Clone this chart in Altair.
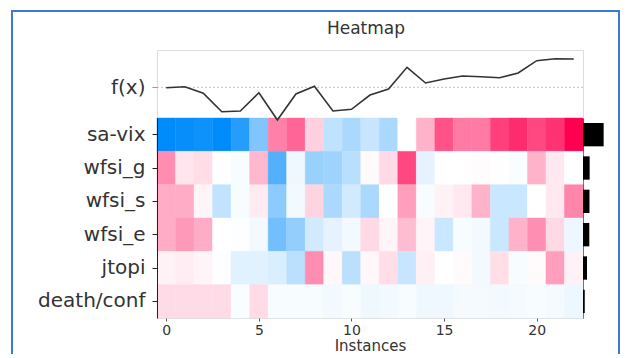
import altair as alt
import pandas as pd

features = ["sa-vix", "wfsi_g", "wfsi_s", "wfsi_e", "jtopi", "death/conf"]
instances = list(range(23))

shap_sa_vix = [-1.00, -0.97, -0.95, -1.00, -0.85, -0.50, 0.50, 0.60, 0.18, -0.25, -0.33, -0.22,
               -0.33, 0.00, 0.30, 0.68, 0.52, 0.52, 0.75, 0.83, 0.72, 0.80, 1.00]
shap_wfsi_g = [0.45, 0.10, 0.13, 0.00, -0.03, 0.28, -0.68, -0.06, -0.40, -0.38, -0.28, 0.02,
               0.15, 0.72, -0.10, 0.00, 0.00, 0.01, 0.00, -0.02, 0.30, 0.09, 0.00]
shap_wfsi_s = [0.32, 0.32, 0.04, -0.24, -0.03, 0.08, -0.45, -0.05, 0.17, -0.33, -0.18, -0.33,
               0.00, 0.38, -0.03, 0.05, 0.09, 0.30, -0.21, -0.21, 0.00, 0.09, 0.48]
shap_wfsi_e = [0.32, 0.40, 0.32, 0.00, -0.01, -0.05, -0.55, -0.42, -0.18, -0.10, -0.05, 0.15,
               0.04, 0.26, 0.04, -0.21, -0.03, -0.05, -0.21, 0.30, 0.44, 0.15, -0.07]
shap_jtopi = [0.05, 0.07, 0.04, -0.01, -0.12, -0.12, -0.15, -0.27, 0.45, 0.03, -0.27, 0.03,
              0.13, -0.22, 0.06, 0.00, 0.02, -0.05, 0.13, -0.03, 0.02, 0.38, 0.05]
shap_death_conf = [0.14, 0.14, 0.14, 0.14, -0.02, 0.14, -0.03, -0.03, -0.03, -0.05, -0.03, -0.06,
                   -0.05, -0.03, -0.06, -0.06, -0.04, -0.04, -0.05, -0.04, -0.03, -0.04, -0.07]

# model output f(x) relative to the base value (dashed line)
fx = [-0.04, 0.06, -0.60, -2.44, -2.37, -0.54, -3.27, -0.67, 0.10, -2.37, -2.20, -0.77,
      -0.17, 2.00, 0.43, 0.83, 1.13, 1.06, 0.96, 1.43, 2.66, 2.86, 2.83]
base_value = [0.0]

mean_abs_shap = [0.59, 0.19, 0.185, 0.18, 0.115, 0.05]

rows = [shap_sa_vix, shap_wfsi_g, shap_wfsi_s, shap_wfsi_e, shap_jtopi, shap_death_conf]
cells = pd.DataFrame([
    {"feature": f, "instance": i, "value": v}
    for f, vals in zip(features, rows)
    for i, v in zip(instances, vals)
])
fdf = pd.DataFrame({"instance": instances, "fx": fx})
bdf = pd.DataFrame({"x0": [instances[0] - 0.5], "x1": [instances[-1] + 0.5], "base": base_value})
idf = pd.DataFrame({"feature": features, "importance": mean_abs_shap})

FONT = "DejaVu Sans"
xdom = [-0.5, 22.5]
row_range = [68, 268]
line_scale = alt.Scale(domain=[-3.5, 3.5], range=[72.3, 2.3], zero=False, nice=False)
cmap = alt.Scale(domain=[-1, 0, 1], range=["#008bfb", "#ffffff", "#ff0051"],
                 interpolate="rgb", clamp=True)

border = alt.Chart(pd.DataFrame({"a": [0]})).mark_rect(
    fillOpacity=0, stroke="#3b78d8", strokeWidth=2
).encode(x=alt.value(-145), x2=alt.value(462), y=alt.value(-39), y2=alt.value(315))

heat = alt.Chart(cells).transform_calculate(
    x0="datum.instance - 0.5", x1="datum.instance + 0.5"
).mark_rect(strokeWidth=0.4).encode(
    x=alt.X("x0:Q", scale=alt.Scale(domain=xdom, nice=False, zero=False),
            axis=alt.Axis(values=[0, 5, 10, 15, 20], title="Instances", domain=False,
                          tickSize=3, tickColor="#555", labelFontSize=14, labelColor="#333",
                          labelPadding=2, titleFontSize=15, titleFontWeight="normal",
                          titleColor="#333", titlePadding=1, grid=False)),
    x2="x1:Q",
    y=alt.Y("feature:N", sort=features,
            scale=alt.Scale(range=row_range, paddingInner=0, paddingOuter=0),
            axis=alt.Axis(orient="left", title=None, domainColor="#222", tickColor="#222",
                          tickSize=5, labelFontSize=20, labelColor="#333", labelPadding=7)),
    color=alt.Color("value:Q", scale=cmap, legend=None),
    stroke=alt.Stroke("value:Q", scale=cmap, legend=None),
)

rule = alt.Chart(bdf).mark_rule(color="#b0b0b0", strokeDash=[2, 2], strokeWidth=0.8).encode(
    x=alt.X("x0:Q", scale=alt.Scale(domain=xdom, nice=False, zero=False), axis=None),
    x2="x1:Q",
    y=alt.Y("base:Q", scale=line_scale, axis=None),
)

line = alt.Chart(fdf).mark_line(color="#333333", strokeWidth=1.6).encode(
    x=alt.X("instance:Q", scale=alt.Scale(domain=xdom, nice=False, zero=False), axis=None),
    y=alt.Y("fx:Q", scale=line_scale,
            axis=alt.Axis(orient="left", values=[0], labelExpr="'f(x)'", title=None, domain=False,
                          grid=False, tickSize=5, tickColor="#999", labelFontSize=20,
                          labelColor="#333", labelPadding=7)),
)

bars = alt.Chart(idf).mark_bar(color="black").encode(
    y=alt.Y("feature:N", sort=features,
            scale=alt.Scale(range=row_range, paddingInner=0.3, paddingOuter=0.15),
            axis=alt.Axis(orient="right", title=None, labels=False, ticks=False,
                          domainColor="#555", grid=False)),
    x=alt.X("importance:Q", scale=alt.Scale(domain=[0, 0.6], range=[426, 447], nice=False),
            axis=None),
)

chart = alt.layer(border, heat, rule, line, bars).resolve_scale(
    x="independent", y="independent", color="shared"
).properties(
    width=426, height=268,
    title=alt.Title("Heatmap", fontSize=17, fontWeight="normal", color="#333", font=FONT,
                    anchor="middle", offset=0, dy=28, dx=-4),
    padding={"left": 149, "top": 42, "right": 38, "bottom": 36},
    autosize=alt.AutoSizeParams(type="none"),
).configure_view(stroke=None).configure(font=FONT)

chart.save("out.html", embed_options={"renderer": "svg", "actions": False})
